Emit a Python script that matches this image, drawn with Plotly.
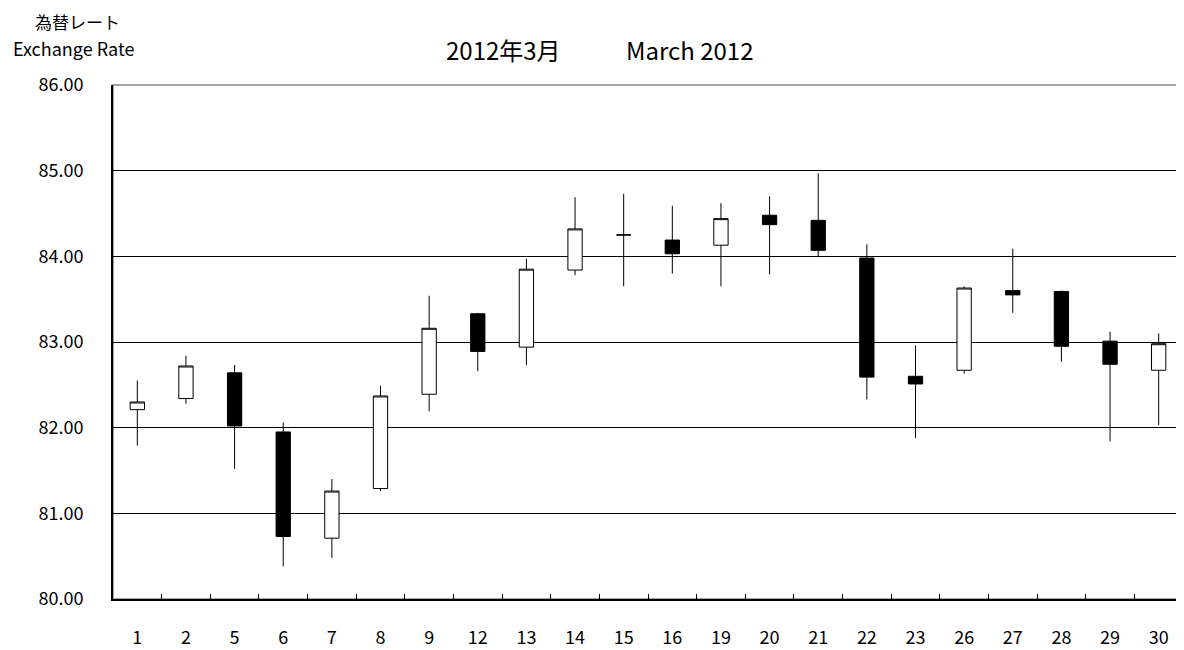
import plotly.graph_objects as go

# trading days in March 2012
days = ['1', '2', '5', '6', '7', '8', '9', '12', '13', '14', '15',
        '16', '19', '20', '21', '22', '23', '26', '27', '28', '29', '30']

open_ = [82.21, 82.34, 82.64, 81.95, 80.71, 81.29, 82.39, 83.33, 82.94, 83.84, 84.25,
         84.19, 84.13, 84.48, 84.42, 83.98, 82.60, 82.67, 83.60, 83.59, 83.01, 82.67]
high = [82.55, 82.84, 82.73, 82.06, 81.40, 82.49, 83.54, 83.34, 83.97, 84.69, 84.73,
        84.59, 84.62, 84.70, 84.97, 84.14, 82.96, 83.65, 84.09, 83.60, 83.12, 83.10]
low = [81.79, 82.28, 81.52, 80.38, 80.48, 81.26, 82.19, 82.66, 82.73, 83.78, 83.65,
       83.80, 83.65, 83.79, 83.99, 82.33, 81.88, 82.63, 83.34, 82.77, 81.84, 82.03]
close = [82.30, 82.72, 82.02, 80.73, 81.26, 82.37, 83.16, 82.89, 83.85, 84.32, 84.25,
         84.03, 84.44, 84.37, 84.07, 82.59, 82.51, 83.63, 83.55, 82.95, 82.74, 82.98]

y_ticks = [80, 81, 82, 83, 84, 85, 86]

FONT = "Noto Sans CJK JP"

fig = go.Figure(go.Candlestick(
    x=days, open=open_, high=high, low=low, close=close,
    increasing=dict(fillcolor="white", line=dict(color="black", width=1)),
    decreasing=dict(fillcolor="black", line=dict(color="black", width=1)),
    whiskerwidth=0,
    hoverinfo="skip",
))

# page body has an 8px margin, so the figure is sized to fit inside it
fig.update_layout(
    width=1176, height=642,
    margin=dict(l=105, r=1, t=77, b=48),
    plot_bgcolor="white", paper_bgcolor="white",
    showlegend=False,
    boxgap=0.58,
    font=dict(family=FONT, size=18, color="black"),
    xaxis=dict(
        type="category", range=[-0.5, len(days) - 0.5],
        rangeslider=dict(visible=False),
        showgrid=False, showline=True, linecolor="black", linewidth=2,
        ticks="inside", tickson="boundaries", ticklen=5, tickcolor="black",
        ticklabelstandoff=21, tickfont=dict(size=18),
    ),
    yaxis=dict(
        range=[80, 86], tickvals=y_ticks,
        ticktext=[f"{v:.2f}" for v in y_ticks],
        showgrid=True, gridcolor="black", gridwidth=1,
        showline=True, linecolor="black", linewidth=2,
        ticks="", ticklabelstandoff=24, tickfont=dict(size=18),
        zeroline=False,
    ),
    shapes=[dict(type="rect", xref="paper", yref="paper", x0=0, x1=1, y0=0, y1=1,
                 line=dict(color="#888888", width=1.5), layer="below")],
    annotations=[
        dict(text="為替レート", xref="paper", yref="paper", x=-0.0336, y=1.149,
             xanchor="center", yanchor="top", showarrow=False, borderpad=0,
             font=dict(size=17)),
        dict(text="Exchange Rate", xref="paper", yref="paper", x=-0.0369, y=1.0716,
             xanchor="center", yanchor="middle", showarrow=False, font=dict(size=18)),
        dict(text="2012年3月", xref="paper", yref="paper", x=0.3654, y=1.0697,
             xanchor="center", yanchor="middle", showarrow=False, font=dict(size=24)),
        dict(text="March 2012", xref="paper", yref="paper", x=0.5393, y=1.0697,
             xanchor="center", yanchor="middle", showarrow=False, font=dict(size=24)),
    ],
)

fig.write_html("out.html")
